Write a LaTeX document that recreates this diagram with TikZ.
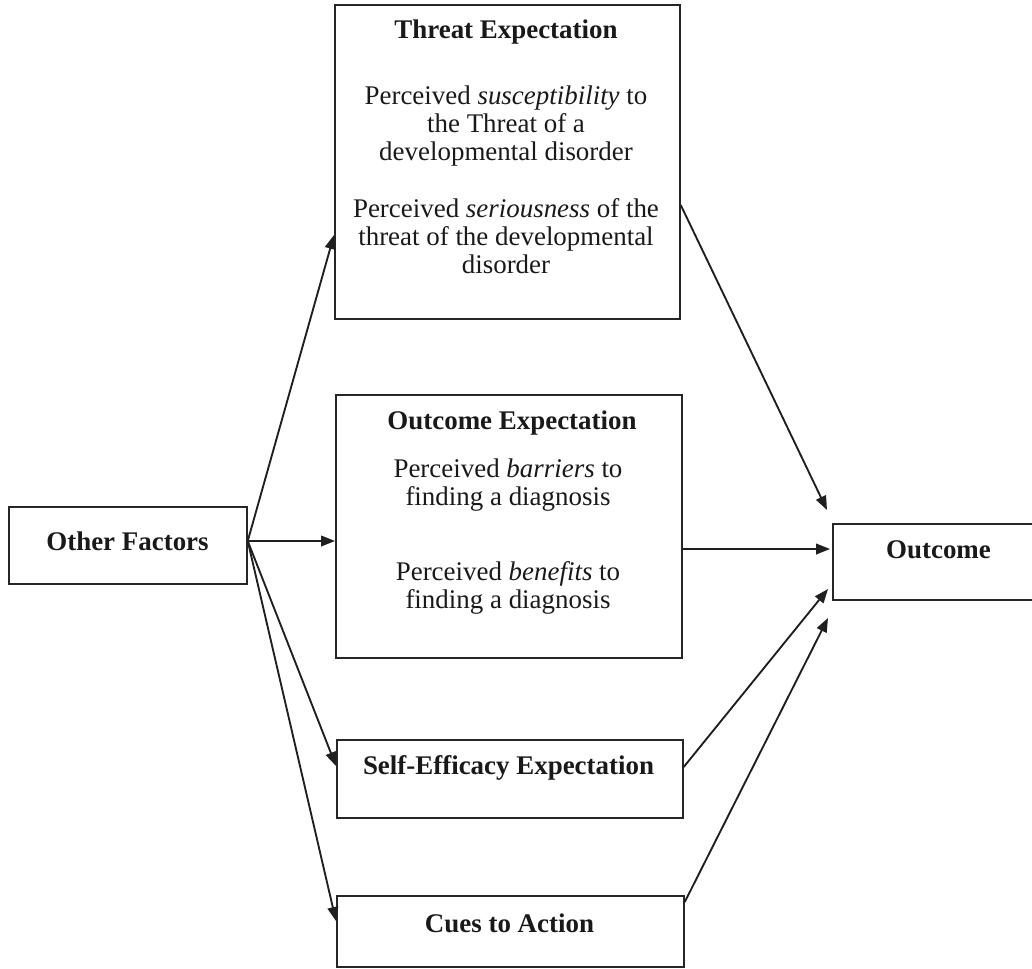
\documentclass[tikz,border=0pt]{standalone}
\usepackage{fontspec}
\setmainfont{Liberation Serif}
\usetikzlibrary{arrows.meta,calc}
\begin{document}
\begin{tikzpicture}[x=0.75pt,y=-0.75pt,
  box/.style={draw=black!85,line width=1.3pt,rectangle,anchor=north west,inner sep=0pt},
  ttl/.style={font=\bfseries\fontsize{20.2}{21}\selectfont,inner sep=0pt,text=black!90},
  txt/.style={font=\fontsize{20.2}{21}\selectfont,align=center,inner sep=0pt,text=black!90},
  arr/.style={draw=black!88,line width=1.4pt,-{Triangle[length=10.5pt,width=8pt]}}]
\useasboundingbox (0,0) rectangle (1032,968);
% boxes
\node[box,minimum width=258.75pt,minimum height=235.5pt] (threat) at (334,4) {};
\node[box,minimum width=259.5pt,minimum height=197.25pt] (outexp) at (335,394) {};
\node[box,minimum width=259.5pt,minimum height=58.5pt] (self) at (336,739) {};
\node[box,minimum width=260.25pt,minimum height=53.25pt] (cues) at (336,895) {};
\node[box,minimum width=178.5pt,minimum height=57.75pt] (other) at (8,506) {};
\node[box,minimum width=159.75pt,minimum height=57pt] (outcome) at (832,523) {};
% texts
\node[ttl] (threatT) at (506,32) {Threat Expectation};
\node[txt] (threatA) at (506,126) {Perceived \textit{susceptibility} to\\the Threat of a\\developmental disorder};
\node[txt] (threatB) at (506,236) {Perceived \textit{seriousness} of the\\threat of the developmental\\disorder};
\node[ttl] (outexpT) at (512,423) {Outcome Expectation};
\node[txt] (outexpA) at (508,485) {Perceived \textit{barriers} to\\finding a diagnosis};
\node[txt] (outexpB) at (508,588) {Perceived \textit{benefits} to\\finding a diagnosis};
\node[ttl] (selfT) at (508.5,768) {Self-Efficacy Expectation};
\node[ttl] (cuesT) at (509.5,923) {Cues to Action};
\node[ttl] (otherT) at (127.5,541) {Other Factors};
\node[ttl] (outcomeT) at (938.5,550) {Outcome};
% connectors
\coordinate (os) at ($(other.north east)+(0,35)$);
\draw[arr] (os) -- ($(threat.north west)+(0,231)$);
\draw[arr] (os) -- ($(outexp.north west)+(0,147)$);
\draw[arr] (os) -- ($(self.north west)+(0,27)$);
\draw[arr] (os) -- ($(cues.north west)+(0,26)$);
\draw[arr] ($(threat.north east)+(0,201)$) -- ($(outcome.north west)+(-5,-13)$);
\draw[arr] ($(outexp.north east)+(0,155)$) -- ($(outcome.north west)+(-2,26)$);
\draw[arr] ($(self.north east)+(0,28)$) -- ($(outcome.north west)+(-4,66)$);
\draw[arr] ($(cues.north east)+(0,7)$) -- ($(outcome.north west)+(-4,95)$);
\end{tikzpicture}
\end{document}
